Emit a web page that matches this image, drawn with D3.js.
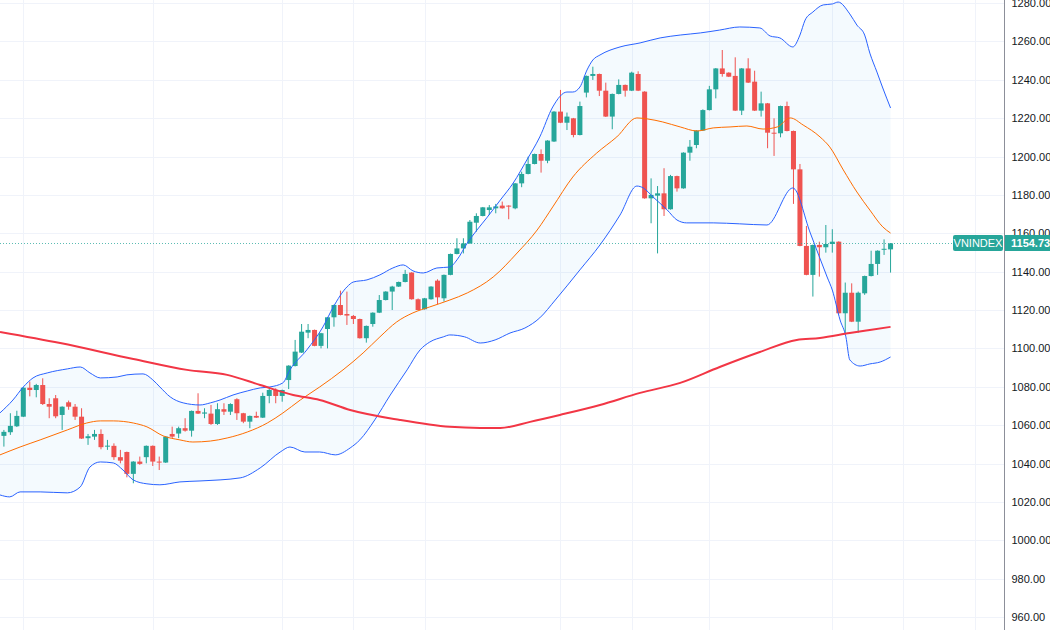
<!DOCTYPE html>
<html><head><meta charset="utf-8">
<script src="https://cdn.jsdelivr.net/npm/d3@7"></script>
<style>body{margin:0;background:#fff;overflow:hidden}svg{display:block;font-family:"Liberation Sans",Arial,sans-serif}</style>
</head><body>
<svg id="c" width="1050" height="630"></svg>
<script>
// ---- data (candle index, VNINDEX points) ----
const opens=[1054.4,1056.3,1059.4,1064.4,1079.5,1078.3,1080.9,1071.0,1074.0,1065.3,1071.9,1069.6,1064.4,1053.2,1054.0,1055.4,1049.0,1049.2,1043.3,1046.0,1034.6,1041.0,1043.3,1049.2,1041.0,1040.5,1055.4,1055.6,1058.4,1057.1,1067.4,1066.0,1066.0,1060.6,1068.3,1067.0,1073.5,1066.2,1061.8,1064.8,1063.9,1075.2,1078.3,1075.2,1083.5,1090.8,1097.8,1108.2,1109.6,1101.3,1110.1,1116.2,1122.6,1117.9,1116.9,1115.3,1105.3,1112.7,1118.6,1125.2,1129.6,1132.2,1134.6,1139.5,1125.6,1120.4,1125.6,1135.3,1126.1,1138.3,1149.2,1152.1,1154.7,1165.5,1169.0,1172.1,1173.0,1174.4,1174.4,1173.0,1186.0,1190.9,1196.1,1201.3,1197.8,1207.8,1223.4,1217.6,1219.9,1211.2,1233.3,1242.0,1243.0,1234.3,1220.8,1232.6,1237.3,1234.3,1243.0,1233.8,1178.2,1179.6,1180.8,1172.5,1189.8,1183.4,1202.0,1206.0,1213.5,1224.2,1235.0,1245.9,1243.7,1242.0,1223.9,1245.9,1239.0,1223.9,1227.7,1212.4,1212.1,1226.3,1213.3,1193.3,1153.4,1138.3,1153.9,1152.7,1154.4,1155.6,1118.3,1129.0,1113.9,1128.7,1137.7,1144.0,1151.6,1151.6];
const highs=[1057.5,1066.2,1067.5,1079.8,1082.7,1081.5,1084.4,1074.0,1075.7,1069.8,1072.8,1071.0,1068.8,1055.4,1057.5,1057.8,1052.3,1050.5,1047.1,1046.2,1041.2,1043.6,1049.4,1049.4,1043.6,1054.2,1059.2,1059.2,1063.6,1067.6,1076.6,1068.8,1070.5,1071.4,1071.4,1071.4,1074.0,1066.4,1065.0,1067.0,1076.9,1079.2,1079.2,1078.5,1091.2,1104.4,1112.7,1112.7,1109.8,1108.1,1116.4,1122.8,1130.1,1129.6,1117.4,1115.5,1111.9,1118.8,1127.8,1129.8,1132.6,1134.8,1140.9,1139.7,1126.0,1126.3,1132.4,1136.0,1138.5,1149.4,1157.4,1157.4,1166.9,1170.4,1173.7,1174.7,1175.3,1176.5,1174.6,1186.2,1192.1,1199.9,1201.5,1203.7,1208.5,1223.6,1234.7,1222.9,1220.1,1228.6,1242.2,1246.8,1243.2,1238.5,1232.8,1240.2,1237.5,1244.2,1244.4,1234.0,1188.6,1184.6,1193.9,1190.4,1190.0,1202.2,1208.6,1213.7,1224.6,1236.8,1246.1,1255.5,1243.9,1251.7,1246.1,1251.2,1244.7,1233.8,1227.9,1219.9,1226.5,1228.6,1213.5,1196.1,1163.8,1154.1,1155.6,1164.3,1162.1,1155.8,1134.3,1133.9,1129.6,1137.9,1150.9,1151.1,1156.8,1154.9];
const lows=[1048.8,1054.9,1059.0,1064.2,1075.0,1074.5,1070.5,1063.6,1063.6,1057.5,1068.0,1062.7,1052.8,1049.7,1052.3,1047.4,1047.1,1041.9,1040.1,1032.8,1029.7,1039.3,1040.1,1038.7,1036.6,1040.3,1053.2,1053.2,1056.6,1054.0,1065.8,1063.6,1060.1,1060.1,1065.3,1065.3,1062.7,1061.0,1058.4,1063.7,1063.7,1071.4,1071.4,1072.2,1078.8,1090.6,1097.6,1105.3,1101.1,1100.0,1100.0,1111.3,1117.2,1112.2,1112.7,1105.1,1103.0,1111.3,1118.4,1125.0,1120.0,1132.0,1134.4,1125.4,1119.8,1120.2,1125.4,1123.0,1124.4,1138.1,1149.0,1149.5,1154.5,1160.8,1168.8,1169.5,1170.4,1172.8,1167.3,1172.5,1184.0,1190.7,1195.9,1191.6,1196.5,1207.6,1217.4,1213.8,1210.0,1211.0,1230.8,1239.9,1231.5,1220.6,1214.2,1232.4,1231.2,1234.1,1234.1,1178.0,1165.2,1149.5,1169.0,1172.3,1181.7,1183.2,1197.8,1204.3,1213.3,1224.0,1230.3,1241.6,1241.4,1223.7,1221.6,1238.3,1223.7,1220.8,1204.3,1200.3,1210.0,1213.1,1175.3,1153.2,1138.1,1127.0,1137.4,1149.9,1149.9,1118.1,1107.9,1113.7,1108.2,1127.9,1137.5,1138.3,1148.7,1139.5];
const closes=[1056.5,1059.6,1064.8,1079.5,1078.3,1080.9,1071.0,1069.6,1064.6,1069.6,1069.6,1064.4,1053.0,1054.2,1055.4,1048.5,1049.3,1043.3,1041.5,1034.6,1041.0,1039.8,1049.2,1041.0,1040.6,1054.0,1054.0,1058.4,1057.1,1067.4,1066.0,1066.6,1060.6,1068.3,1067.0,1071.0,1066.2,1061.8,1064.8,1063.9,1075.2,1078.3,1075.2,1078.3,1091.0,1098.3,1108.7,1109.6,1101.3,1107.9,1116.2,1122.6,1117.4,1117.1,1115.3,1105.3,1111.7,1118.6,1125.2,1129.6,1132.2,1134.6,1138.8,1125.6,1120.0,1126.1,1132.2,1126.6,1138.3,1149.2,1152.1,1154.7,1166.0,1169.0,1173.5,1173.5,1174.0,1173.0,1173.9,1186.0,1190.9,1196.1,1201.3,1197.8,1208.3,1223.4,1217.6,1220.8,1211.2,1226.3,1242.0,1243.0,1234.3,1220.8,1232.6,1237.3,1234.3,1243.7,1234.3,1178.2,1180.0,1180.8,1172.5,1189.8,1183.4,1202.0,1205.1,1213.5,1224.2,1235.0,1245.9,1243.0,1241.6,1223.9,1245.9,1238.5,1223.9,1227.7,1212.4,1211.9,1226.3,1213.3,1193.3,1153.4,1138.3,1153.9,1152.7,1154.4,1155.6,1118.3,1129.0,1113.9,1129.0,1137.7,1144.0,1150.9,1151.9,1154.73];

// Bollinger upper band (candle index, value)
const upperIdx=[-0.6,1.4,3,4.5,6.7,9.8,11.8,13.3,14.9,17.5,19,21.5,23,24.1,25.7,27.7,30.3,31.9,33.4,35.4,37.6,39.6,41.1,43.1,44.2,46.8,49.3,50.9,53,54,56.1,58.1,60.1,61.7,63.2,64.8,66.9,68.9,70,71.6,73.1,74.6,76.7,78.7,80.8,82.8,84.8,87,87.9,89,90.1,91,92.1,95.2,98.3,101.4,104.5,107.6,110.6,113.7,116.8,118.4,119.9,121.9,123,123.8,125,126.6,128,128.9,130.7,131.8,133,133.8,134.9,135.8,137];
const upperVal=[1066.4,1073.1,1079.9,1084.6,1087.2,1089.3,1090.3,1087.2,1084.6,1085.1,1086.2,1086.7,1083.6,1079.9,1074.7,1071.6,1070.5,1071.6,1073.1,1075.7,1077.8,1079.4,1079.9,1082.0,1088.8,1099.2,1111.2,1121.6,1132.0,1134.6,1135.7,1138.3,1141.9,1143.5,1140.4,1139.3,1141.9,1142.4,1146.1,1154.9,1161.7,1168.0,1177.3,1186.2,1198.2,1210.2,1225.8,1233.6,1233.6,1236.2,1245.1,1250.3,1252.9,1257.1,1259.2,1261.8,1263.3,1264.4,1265.9,1267.5,1267.0,1262.8,1261.8,1257.1,1263.3,1271.1,1275.3,1279.0,1279.5,1280.5,1274.3,1268.5,1263.3,1253.9,1244.0,1235.7,1225.3];
// Bollinger lower band
const lowerIdx=[-0.6,0.9,2.5,5.6,9.8,11.8,13.3,14.9,16.9,18.4,20,22.1,24.1,27.2,30.3,36.5,39.6,42.7,44.2,46.5,48.8,51.2,53.5,55,57.3,59.7,62.3,64.3,65.8,67.9,68.9,71.2,73.6,75.9,78.2,80.5,82.8,85.2,89,92.1,95.2,97.8,98.8,100.3,102.5,104,105.5,109.6,113.7,117.9,121.9,124.6,127.2,128,129.2,130.1,130.7,132.3,133.8,135.4,137];
const lowerVal=[1023.6,1022.6,1025.2,1025.2,1024.7,1027.8,1038.2,1040.8,1040.3,1036.6,1031.4,1029.4,1028.9,1030.4,1030.9,1032.5,1037.7,1046.0,1048.6,1046.0,1046.0,1044.5,1048.1,1052.3,1062.7,1075.7,1088.8,1099.2,1103.3,1106.0,1107.0,1106.0,1102.8,1104.4,1108.0,1110.6,1115.9,1125.2,1140.9,1153.9,1169.5,1184.6,1183.6,1178.9,1172.1,1166.9,1165.4,1165.4,1164.9,1164.3,1183.6,1160.1,1137.2,1130.4,1114.8,1106.0,1094.0,1090.8,1091.9,1092.9,1095.5];
// Bollinger basis (20)
const basisIdx=[-0.6,2.5,5.6,9.8,12.8,14.9,16.9,20,22.1,24.6,27.2,29.2,31.9,34.5,37.6,40.7,43.1,45.8,48.8,52.4,55.5,58.1,60.7,63.2,65.8,68.9,71.6,75.6,79.3,82.4,84.8,87.9,91.6,94.7,97.8,99.4,101.8,104.5,107.1,109.6,112.2,114.8,117.3,119.5,121.5,123.5,126.1,127.6,129.7,131.8,133.8,135.8,137];
const basisVal=[1044.5,1048.6,1052.3,1057.5,1061.1,1062.2,1062.2,1061.1,1059.1,1054.4,1052.3,1051.2,1051.7,1053.3,1056.4,1061.1,1066.3,1073.1,1079.9,1088.8,1097.6,1106.0,1113.8,1118.5,1121.6,1125.2,1128.9,1137.2,1149.7,1161.7,1173.7,1189.3,1201.8,1210.2,1220.1,1219.6,1218.0,1215.4,1213.3,1214.9,1215.4,1215.9,1214.3,1215.4,1220.1,1216.4,1210.2,1205.0,1193.0,1181.5,1172.1,1163.3,1160.1];
// MA 200
const maIdx=[-0.6,8.7,20,28.3,34.5,39.6,44.7,48.8,53.5,61.2,68.9,73.6,76.7,81.3,85.9,92.1,98.3,104.5,110.6,116.8,122.5,126.1,130.7,133.8,137];
const maVal=[1108.6,1102.8,1094.5,1088.8,1086.2,1080.9,1075.7,1073.1,1067.9,1062.7,1059.1,1058.5,1058.5,1061.7,1065.3,1070.5,1076.8,1082.0,1090.3,1098.1,1104.4,1105.4,1108.0,1109.6,1111.2];

const yTicks=[960,980,1000,1020,1040,1060,1080,1100,1120,1140,1160,1180,1200,1220,1240,1260,1280];
const vGridIdx=[3,23,43,54,65,86,97,109,128,139,150];
const symbol="VNINDEX";

// ---- drawing ----
const W=1050,H=630,plotR=1004;
const svg=d3.select("#c");
const x=d3.scaleLinear().domain([-0.6026,154.53]).range([0,plotR]);
const y=d3.scaleLinear().domain([960,1280]).range([617,3]);
const UP="#26a69a",DN="#ef5350";

const g=svg.append("g");
// grid
g.selectAll(".hg").data(yTicks).join("line").attr("x1",0).attr("x2",plotR)
 .attr("y1",d=>Math.round(y(d))+0.5).attr("y2",d=>Math.round(y(d))+0.5)
 .attr("stroke","#f0f3fa").attr("stroke-width",1);
g.selectAll(".vg").data(vGridIdx).join("line").attr("y1",0).attr("y2",H)
 .attr("x1",d=>Math.round(x(d))+0.5).attr("x2",d=>Math.round(x(d))+0.5)
 .attr("stroke","#f0f3fa").attr("stroke-width",1);

// band fill
const upPts=upperIdx.map((d,i)=>[d,upperVal[i]]);
const loPts=lowerIdx.map((d,i)=>[d,lowerVal[i]]);
const curve=d3.curveMonotoneX;
const upLine=d3.line().x(d=>x(d[0])).y(d=>y(d[1])).curve(curve);
const fillPath=upLine(upPts)+"L"+upLine(loPts.slice().reverse()).slice(1)+"Z";
g.append("path").attr("d",fillPath).attr("fill","rgba(33,150,243,0.05)");

// candles
const idx=d3.range(opens.length);
const bw=5;
const cg=g.append("g");
cg.selectAll(".w").data(idx).join("line")
 .attr("x1",i=>x(i)).attr("x2",i=>x(i))
 .attr("y1",i=>y(highs[i])).attr("y2",i=>y(lows[i]))
 .attr("stroke",i=>closes[i]>=opens[i]?UP:DN).attr("stroke-width",1);
cg.selectAll(".b").data(idx).join("rect")
 .attr("x",i=>x(i)-bw/2).attr("width",bw)
 .attr("y",i=>y(Math.max(opens[i],closes[i])))
 .attr("height",i=>Math.max(1,Math.abs(y(opens[i])-y(closes[i]))))
 .attr("fill",i=>closes[i]>=opens[i]?UP:DN);

// lines
const mk=(a,b)=>a.map((d,i)=>[d,b[i]]);
g.append("path").attr("d",upLine(upPts)).attr("fill","none").attr("stroke","#2962ff").attr("stroke-width",1);
g.append("path").attr("d",upLine(loPts)).attr("fill","none").attr("stroke","#2962ff").attr("stroke-width",1);
g.append("path").attr("d",upLine(mk(basisIdx,basisVal))).attr("fill","none").attr("stroke","#ff6d00").attr("stroke-width",1);
g.append("path").attr("d",upLine(mk(maIdx,maVal))).attr("fill","none").attr("stroke","#f23645").attr("stroke-width",2);

// last price line
const last=closes[closes.length-1];
const ly=Math.round(y(last))+0.5;
g.append("line").attr("x1",0).attr("x2",plotR).attr("y1",ly).attr("y2",ly)
 .attr("stroke",UP).attr("stroke-opacity",0.75).attr("stroke-width",1).attr("stroke-dasharray","1,2");

// axis
svg.append("rect").attr("x",plotR).attr("y",0).attr("width",W-plotR).attr("height",H).attr("fill","#fff");
const ax=svg.append("g").attr("transform",`translate(${plotR+0.5},0)`)
 .call(d3.axisRight(y).tickValues(yTicks).tickSize(0).tickPadding(7).tickFormat(d=>d.toFixed(2)));
ax.select(".domain").attr("stroke","#8c8f99").attr("d",`M0,0V${H}`);
ax.selectAll("text").attr("fill","#131722").attr("font-size",11).attr("font-family","Liberation Sans,Arial,sans-serif");

// price labels
const lbH=16;
svg.append("rect").attr("x",953).attr("y",ly-0.5-lbH/2).attr("width",plotR-953-1).attr("height",lbH).attr("rx",2).attr("fill",UP);
svg.append("text").attr("x",(953+plotR-1)/2).attr("y",ly).attr("dy","0.35em").attr("text-anchor","middle")
 .attr("fill","#fff").attr("font-size",11).text(symbol);
svg.append("rect").attr("x",plotR+1).attr("y",ly-0.5-lbH/2).attr("width",W-plotR-1).attr("height",lbH).attr("fill",UP);
svg.append("text").attr("x",plotR+7).attr("y",ly).attr("dy","0.35em")
 .attr("fill","#fff").attr("font-size",11).attr("font-weight",600).text(last.toFixed(2));
</script>
</body></html>
